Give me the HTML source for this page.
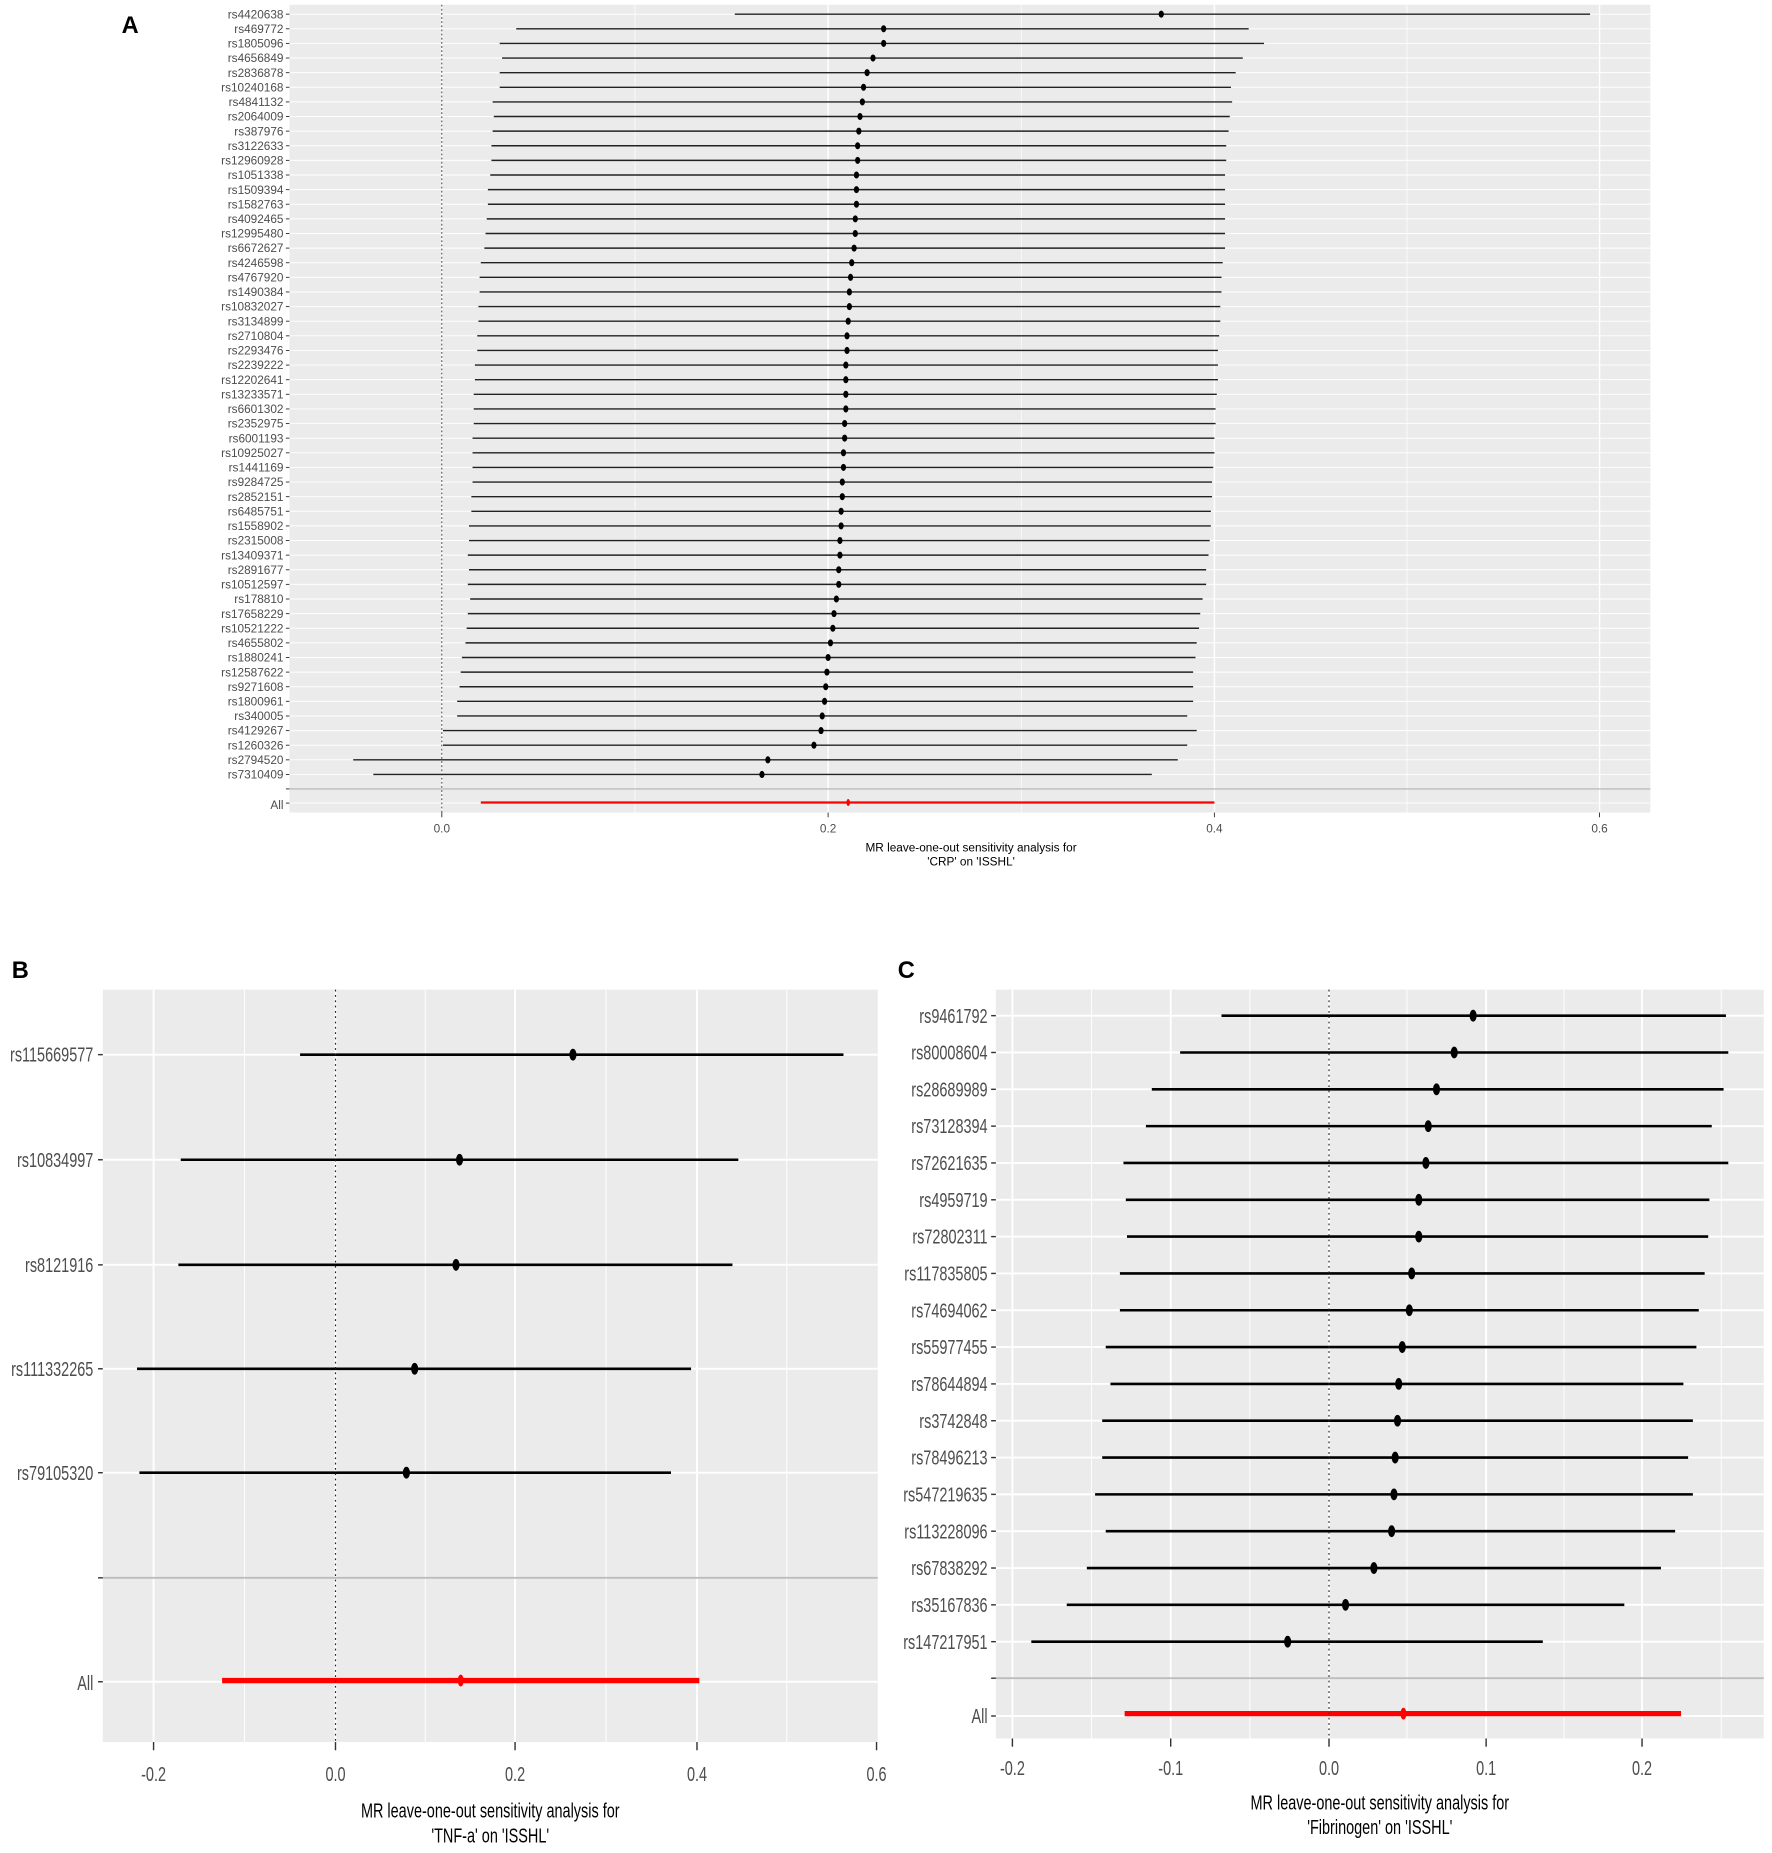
<!DOCTYPE html>
<html><head><meta charset="utf-8"><style>html,body{margin:0;padding:0;background:#fff}svg{display:block}
.a .w{stroke:#fff;stroke-width:0.8}.a .c{stroke:#222;stroke-width:1.2}.a .t{stroke:#333;stroke-width:0.8}.a text{font-size:10px;fill:#4d4d4d;text-anchor:end}.a ellipse{fill:#000}
.cc .w{stroke:#fff;stroke-width:1.6}.cc .c{stroke:#000;stroke-width:2.2}.cc .t{stroke:#333;stroke-width:1.2}.cc text{font-size:17px;fill:#4d4d4d;text-anchor:end}.cc ellipse{fill:#000}
</style></head>
<body>
<svg width="1772" height="1853" viewBox="0 0 1500 1569" preserveAspectRatio="none" xmlns="http://www.w3.org/2000/svg" font-family="Liberation Sans, sans-serif">
<text x="103" y="28" font-size="20" font-weight="bold">A</text>
<text x="10" y="828" font-size="20" font-weight="bold">B</text>
<text x="760" y="828" font-size="20" font-weight="bold">C</text>

<!-- Panel A -->
<rect x="245" y="4" width="1152" height="684" fill="#ebebeb"/>
<g stroke="#fff" stroke-width="0.6">
<line x1="537.5" y1="4" x2="537.5" y2="688"/><line x1="864.5" y1="4" x2="864.5" y2="688"/><line x1="1191" y1="4" x2="1191" y2="688"/>
</g>
<g stroke="#fff" stroke-width="1.2">
<line x1="374" y1="4" x2="374" y2="688"/><line x1="701" y1="4" x2="701" y2="688"/><line x1="1028" y1="4" x2="1028" y2="688"/><line x1="1354" y1="4" x2="1354" y2="688"/>
</g>
<g class="a">
<g transform="translate(0,12)"><path class="w" d="M245 0H1397"/><path class="c" d="M622 0H1346"/><ellipse cx="983" rx="2.2" ry="3"/><path class="t" d="M242 0H245"/><text x="240" y="3.5">rs4420638</text></g>
<g transform="translate(0,24.38)"><path class="w" d="M245 0H1397"/><path class="c" d="M437 0H1057"/><ellipse cx="748" rx="2.2" ry="3"/><path class="t" d="M242 0H245"/><text x="240" y="3.5">rs469772</text></g>
<g transform="translate(0,36.76)"><path class="w" d="M245 0H1397"/><path class="c" d="M423 0H1070"/><ellipse cx="748" rx="2.2" ry="3"/><path class="t" d="M242 0H245"/><text x="240" y="3.5">rs1805096</text></g>
<g transform="translate(0,49.14)"><path class="w" d="M245 0H1397"/><path class="c" d="M425 0H1052"/><ellipse cx="739" rx="2.2" ry="3"/><path class="t" d="M242 0H245"/><text x="240" y="3.5">rs4656849</text></g>
<g transform="translate(0,61.52)"><path class="w" d="M245 0H1397"/><path class="c" d="M423 0H1046"/><ellipse cx="734" rx="2.2" ry="3"/><path class="t" d="M242 0H245"/><text x="240" y="3.5">rs2836878</text></g>
<g transform="translate(0,73.9)"><path class="w" d="M245 0H1397"/><path class="c" d="M423 0H1042"/><ellipse cx="731" rx="2.2" ry="3"/><path class="t" d="M242 0H245"/><text x="240" y="3.5">rs10240168</text></g>
<g transform="translate(0,86.28)"><path class="w" d="M245 0H1397"/><path class="c" d="M417 0H1043"/><ellipse cx="730" rx="2.2" ry="3"/><path class="t" d="M242 0H245"/><text x="240" y="3.5">rs4841132</text></g>
<g transform="translate(0,98.66)"><path class="w" d="M245 0H1397"/><path class="c" d="M418 0H1041"/><ellipse cx="728" rx="2.2" ry="3"/><path class="t" d="M242 0H245"/><text x="240" y="3.5">rs2064009</text></g>
<g transform="translate(0,111.04)"><path class="w" d="M245 0H1397"/><path class="c" d="M417 0H1040"/><ellipse cx="727" rx="2.2" ry="3"/><path class="t" d="M242 0H245"/><text x="240" y="3.5">rs387976</text></g>
<g transform="translate(0,123.42)"><path class="w" d="M245 0H1397"/><path class="c" d="M416 0H1038"/><ellipse cx="726" rx="2.2" ry="3"/><path class="t" d="M242 0H245"/><text x="240" y="3.5">rs3122633</text></g>
<g transform="translate(0,135.8)"><path class="w" d="M245 0H1397"/><path class="c" d="M416 0H1038"/><ellipse cx="726" rx="2.2" ry="3"/><path class="t" d="M242 0H245"/><text x="240" y="3.5">rs12960928</text></g>
<g transform="translate(0,148.18)"><path class="w" d="M245 0H1397"/><path class="c" d="M415 0H1037"/><ellipse cx="725" rx="2.2" ry="3"/><path class="t" d="M242 0H245"/><text x="240" y="3.5">rs1051338</text></g>
<g transform="translate(0,160.56)"><path class="w" d="M245 0H1397"/><path class="c" d="M413 0H1037"/><ellipse cx="725" rx="2.2" ry="3"/><path class="t" d="M242 0H245"/><text x="240" y="3.5">rs1509394</text></g>
<g transform="translate(0,172.94)"><path class="w" d="M245 0H1397"/><path class="c" d="M413 0H1037"/><ellipse cx="725" rx="2.2" ry="3"/><path class="t" d="M242 0H245"/><text x="240" y="3.5">rs1582763</text></g>
<g transform="translate(0,185.32)"><path class="w" d="M245 0H1397"/><path class="c" d="M412 0H1037"/><ellipse cx="724" rx="2.2" ry="3"/><path class="t" d="M242 0H245"/><text x="240" y="3.5">rs4092465</text></g>
<g transform="translate(0,197.7)"><path class="w" d="M245 0H1397"/><path class="c" d="M411 0H1037"/><ellipse cx="724" rx="2.2" ry="3"/><path class="t" d="M242 0H245"/><text x="240" y="3.5">rs12995480</text></g>
<g transform="translate(0,210.08)"><path class="w" d="M245 0H1397"/><path class="c" d="M410 0H1037"/><ellipse cx="723" rx="2.2" ry="3"/><path class="t" d="M242 0H245"/><text x="240" y="3.5">rs6672627</text></g>
<g transform="translate(0,222.46)"><path class="w" d="M245 0H1397"/><path class="c" d="M407 0H1035"/><ellipse cx="721" rx="2.2" ry="3"/><path class="t" d="M242 0H245"/><text x="240" y="3.5">rs4246598</text></g>
<g transform="translate(0,234.84)"><path class="w" d="M245 0H1397"/><path class="c" d="M406 0H1034"/><ellipse cx="720" rx="2.2" ry="3"/><path class="t" d="M242 0H245"/><text x="240" y="3.5">rs4767920</text></g>
<g transform="translate(0,247.22)"><path class="w" d="M245 0H1397"/><path class="c" d="M406 0H1034"/><ellipse cx="719" rx="2.2" ry="3"/><path class="t" d="M242 0H245"/><text x="240" y="3.5">rs1490384</text></g>
<g transform="translate(0,259.6)"><path class="w" d="M245 0H1397"/><path class="c" d="M405 0H1033"/><ellipse cx="719" rx="2.2" ry="3"/><path class="t" d="M242 0H245"/><text x="240" y="3.5">rs10832027</text></g>
<g transform="translate(0,271.98)"><path class="w" d="M245 0H1397"/><path class="c" d="M405 0H1033"/><ellipse cx="718" rx="2.2" ry="3"/><path class="t" d="M242 0H245"/><text x="240" y="3.5">rs3134899</text></g>
<g transform="translate(0,284.36)"><path class="w" d="M245 0H1397"/><path class="c" d="M404 0H1032"/><ellipse cx="717" rx="2.2" ry="3"/><path class="t" d="M242 0H245"/><text x="240" y="3.5">rs2710804</text></g>
<g transform="translate(0,296.74)"><path class="w" d="M245 0H1397"/><path class="c" d="M404 0H1031"/><ellipse cx="717" rx="2.2" ry="3"/><path class="t" d="M242 0H245"/><text x="240" y="3.5">rs2293476</text></g>
<g transform="translate(0,309.12)"><path class="w" d="M245 0H1397"/><path class="c" d="M402 0H1031"/><ellipse cx="716" rx="2.2" ry="3"/><path class="t" d="M242 0H245"/><text x="240" y="3.5">rs2239222</text></g>
<g transform="translate(0,321.5)"><path class="w" d="M245 0H1397"/><path class="c" d="M402 0H1031"/><ellipse cx="716" rx="2.2" ry="3"/><path class="t" d="M242 0H245"/><text x="240" y="3.5">rs12202641</text></g>
<g transform="translate(0,333.88)"><path class="w" d="M245 0H1397"/><path class="c" d="M401 0H1030"/><ellipse cx="716" rx="2.2" ry="3"/><path class="t" d="M242 0H245"/><text x="240" y="3.5">rs13233571</text></g>
<g transform="translate(0,346.26)"><path class="w" d="M245 0H1397"/><path class="c" d="M401 0H1029"/><ellipse cx="716" rx="2.2" ry="3"/><path class="t" d="M242 0H245"/><text x="240" y="3.5">rs6601302</text></g>
<g transform="translate(0,358.64)"><path class="w" d="M245 0H1397"/><path class="c" d="M401 0H1029"/><ellipse cx="715" rx="2.2" ry="3"/><path class="t" d="M242 0H245"/><text x="240" y="3.5">rs2352975</text></g>
<g transform="translate(0,371.02)"><path class="w" d="M245 0H1397"/><path class="c" d="M400 0H1028"/><ellipse cx="715" rx="2.2" ry="3"/><path class="t" d="M242 0H245"/><text x="240" y="3.5">rs6001193</text></g>
<g transform="translate(0,383.4)"><path class="w" d="M245 0H1397"/><path class="c" d="M400 0H1028"/><ellipse cx="714" rx="2.2" ry="3"/><path class="t" d="M242 0H245"/><text x="240" y="3.5">rs10925027</text></g>
<g transform="translate(0,395.78)"><path class="w" d="M245 0H1397"/><path class="c" d="M400 0H1027"/><ellipse cx="714" rx="2.2" ry="3"/><path class="t" d="M242 0H245"/><text x="240" y="3.5">rs1441169</text></g>
<g transform="translate(0,408.16)"><path class="w" d="M245 0H1397"/><path class="c" d="M400 0H1026"/><ellipse cx="713" rx="2.2" ry="3"/><path class="t" d="M242 0H245"/><text x="240" y="3.5">rs9284725</text></g>
<g transform="translate(0,420.54)"><path class="w" d="M245 0H1397"/><path class="c" d="M399 0H1026"/><ellipse cx="713" rx="2.2" ry="3"/><path class="t" d="M242 0H245"/><text x="240" y="3.5">rs2852151</text></g>
<g transform="translate(0,432.92)"><path class="w" d="M245 0H1397"/><path class="c" d="M399 0H1025"/><ellipse cx="712" rx="2.2" ry="3"/><path class="t" d="M242 0H245"/><text x="240" y="3.5">rs6485751</text></g>
<g transform="translate(0,445.3)"><path class="w" d="M245 0H1397"/><path class="c" d="M397 0H1025"/><ellipse cx="712" rx="2.2" ry="3"/><path class="t" d="M242 0H245"/><text x="240" y="3.5">rs1558902</text></g>
<g transform="translate(0,457.68)"><path class="w" d="M245 0H1397"/><path class="c" d="M397 0H1024"/><ellipse cx="711" rx="2.2" ry="3"/><path class="t" d="M242 0H245"/><text x="240" y="3.5">rs2315008</text></g>
<g transform="translate(0,470.06)"><path class="w" d="M245 0H1397"/><path class="c" d="M396 0H1023"/><ellipse cx="711" rx="2.2" ry="3"/><path class="t" d="M242 0H245"/><text x="240" y="3.5">rs13409371</text></g>
<g transform="translate(0,482.44)"><path class="w" d="M245 0H1397"/><path class="c" d="M397 0H1021"/><ellipse cx="710" rx="2.2" ry="3"/><path class="t" d="M242 0H245"/><text x="240" y="3.5">rs2891677</text></g>
<g transform="translate(0,494.82)"><path class="w" d="M245 0H1397"/><path class="c" d="M396 0H1021"/><ellipse cx="710" rx="2.2" ry="3"/><path class="t" d="M242 0H245"/><text x="240" y="3.5">rs10512597</text></g>
<g transform="translate(0,507.2)"><path class="w" d="M245 0H1397"/><path class="c" d="M398 0H1018"/><ellipse cx="708" rx="2.2" ry="3"/><path class="t" d="M242 0H245"/><text x="240" y="3.5">rs178810</text></g>
<g transform="translate(0,519.58)"><path class="w" d="M245 0H1397"/><path class="c" d="M396 0H1016"/><ellipse cx="706" rx="2.2" ry="3"/><path class="t" d="M242 0H245"/><text x="240" y="3.5">rs17658229</text></g>
<g transform="translate(0,531.96)"><path class="w" d="M245 0H1397"/><path class="c" d="M395 0H1015"/><ellipse cx="705" rx="2.2" ry="3"/><path class="t" d="M242 0H245"/><text x="240" y="3.5">rs10521222</text></g>
<g transform="translate(0,544.34)"><path class="w" d="M245 0H1397"/><path class="c" d="M394 0H1013"/><ellipse cx="703" rx="2.2" ry="3"/><path class="t" d="M242 0H245"/><text x="240" y="3.5">rs4655802</text></g>
<g transform="translate(0,556.72)"><path class="w" d="M245 0H1397"/><path class="c" d="M391 0H1012"/><ellipse cx="701" rx="2.2" ry="3"/><path class="t" d="M242 0H245"/><text x="240" y="3.5">rs1880241</text></g>
<g transform="translate(0,569.1)"><path class="w" d="M245 0H1397"/><path class="c" d="M390 0H1010"/><ellipse cx="700" rx="2.2" ry="3"/><path class="t" d="M242 0H245"/><text x="240" y="3.5">rs12587622</text></g>
<g transform="translate(0,581.48)"><path class="w" d="M245 0H1397"/><path class="c" d="M389 0H1010"/><ellipse cx="699" rx="2.2" ry="3"/><path class="t" d="M242 0H245"/><text x="240" y="3.5">rs9271608</text></g>
<g transform="translate(0,593.86)"><path class="w" d="M245 0H1397"/><path class="c" d="M387 0H1010"/><ellipse cx="698" rx="2.2" ry="3"/><path class="t" d="M242 0H245"/><text x="240" y="3.5">rs1800961</text></g>
<g transform="translate(0,606.24)"><path class="w" d="M245 0H1397"/><path class="c" d="M387 0H1005"/><ellipse cx="696" rx="2.2" ry="3"/><path class="t" d="M242 0H245"/><text x="240" y="3.5">rs340005</text></g>
<g transform="translate(0,618.62)"><path class="w" d="M245 0H1397"/><path class="c" d="M375 0H1013"/><ellipse cx="695" rx="2.2" ry="3"/><path class="t" d="M242 0H245"/><text x="240" y="3.5">rs4129267</text></g>
<g transform="translate(0,631)"><path class="w" d="M245 0H1397"/><path class="c" d="M375 0H1005"/><ellipse cx="689" rx="2.2" ry="3"/><path class="t" d="M242 0H245"/><text x="240" y="3.5">rs1260326</text></g>
<g transform="translate(0,643.38)"><path class="w" d="M245 0H1397"/><path class="c" d="M299 0H997"/><ellipse cx="650" rx="2.2" ry="3"/><path class="t" d="M242 0H245"/><text x="240" y="3.5">rs2794520</text></g>
<g transform="translate(0,655.76)"><path class="w" d="M245 0H1397"/><path class="c" d="M316 0H975"/><ellipse cx="645" rx="2.2" ry="3"/><path class="t" d="M242 0H245"/><text x="240" y="3.5">rs7310409</text></g>
</g>
<line x1="245" y1="668" x2="1397" y2="668" stroke="#bdbdbd" stroke-width="1.2"/>
<line x1="245" y1="680" x2="1397" y2="680" stroke="#fff" stroke-width="0.8"/>
<line x1="407" y1="679.5" x2="1028" y2="679.5" stroke="#f00" stroke-width="2"/>
<ellipse cx="718" cy="679.5" rx="1.5" ry="3" fill="#f00"/>
<line x1="374" y1="4" x2="374" y2="688" stroke="#333" stroke-width="0.8" stroke-dasharray="1.5,2"/>
<g stroke="#333" stroke-width="0.8">
<line x1="374" y1="688" x2="374" y2="692"/><line x1="701" y1="688" x2="701" y2="692"/><line x1="1028" y1="688" x2="1028" y2="692"/><line x1="1354" y1="688" x2="1354" y2="692"/>
<line x1="242" y1="668" x2="245" y2="668"/><line x1="242" y1="680" x2="245" y2="680"/>
</g>
<g font-size="10" fill="#4d4d4d" text-anchor="middle">
<text x="374" y="705">0.0</text><text x="701" y="705">0.2</text><text x="1028" y="705">0.4</text><text x="1354" y="705">0.6</text>
</g>
<text x="240" y="685" font-size="10" fill="#4d4d4d" text-anchor="end">All</text>
<g font-size="10" fill="#000" text-anchor="middle">
<text x="822" y="721">MR leave-one-out sensitivity analysis for</text>
<text x="822" y="733">'CRP' on 'ISSHL'</text>
</g>

<!-- Panel B -->
<rect x="87" y="838" width="656" height="637" fill="#ebebeb"/>
<g stroke="#fff" stroke-width="0.8">
<line x1="207" y1="838" x2="207" y2="1475"/><line x1="360" y1="838" x2="360" y2="1475"/><line x1="513" y1="838" x2="513" y2="1475"/><line x1="666" y1="838" x2="666" y2="1475"/>
</g>
<g stroke="#fff" stroke-width="1.6">
<line x1="130" y1="838" x2="130" y2="1475"/><line x1="284" y1="838" x2="284" y2="1475"/><line x1="436" y1="838" x2="436" y2="1475"/><line x1="590" y1="838" x2="590" y2="1475"/>
<line x1="87" y1="893" x2="743" y2="893"/><line x1="87" y1="982" x2="743" y2="982"/><line x1="87" y1="1071" x2="743" y2="1071"/><line x1="87" y1="1159" x2="743" y2="1159"/><line x1="87" y1="1247" x2="743" y2="1247"/><line x1="87" y1="1424" x2="743" y2="1424"/>
</g>
<line x1="87" y1="1336" x2="743" y2="1336" stroke="#bdbdbd" stroke-width="1.6"/>
<g stroke="#000" stroke-width="2.2">
<line x1="254" y1="893" x2="714" y2="893"/><line x1="153" y1="982" x2="625" y2="982"/><line x1="151" y1="1071" x2="620" y2="1071"/><line x1="116" y1="1159" x2="585" y2="1159"/><line x1="118" y1="1247" x2="568" y2="1247"/>
</g>
<g fill="#000"><ellipse cx="485" cy="893" rx="3" ry="5"/><ellipse cx="389" cy="982" rx="3" ry="5"/><ellipse cx="386" cy="1071" rx="3" ry="5"/><ellipse cx="351" cy="1159" rx="3" ry="5"/><ellipse cx="344" cy="1247" rx="3" ry="5"/></g>
<line x1="188" y1="1423" x2="592" y2="1423" stroke="#f00" stroke-width="4.5"/>
<ellipse cx="390" cy="1423" rx="2.5" ry="5" fill="#f00"/>
<line x1="284" y1="838" x2="284" y2="1475" stroke="#222" stroke-width="1" stroke-dasharray="1.5,3"/>
<g stroke="#333" stroke-width="1.2">
<line x1="83" y1="893" x2="87" y2="893"/><line x1="83" y1="982" x2="87" y2="982"/><line x1="83" y1="1071" x2="87" y2="1071"/><line x1="83" y1="1159" x2="87" y2="1159"/><line x1="83" y1="1247" x2="87" y2="1247"/><line x1="83" y1="1336" x2="87" y2="1336"/><line x1="83" y1="1424" x2="87" y2="1424"/>
<line x1="130" y1="1475" x2="130" y2="1482"/><line x1="284" y1="1475" x2="284" y2="1482"/><line x1="436" y1="1475" x2="436" y2="1482"/><line x1="590" y1="1475" x2="590" y2="1482"/><line x1="742" y1="1475" x2="742" y2="1482"/>
</g>
<g font-size="17" fill="#4d4d4d" text-anchor="end">
<text transform="translate(79,899) scale(0.72,1)">rs115669577</text>
<text transform="translate(79,988) scale(0.72,1)">rs10834997</text>
<text transform="translate(79,1077) scale(0.72,1)">rs8121916</text>
<text transform="translate(79,1165) scale(0.72,1)">rs111332265</text>
<text transform="translate(79,1253) scale(0.72,1)">rs79105320</text>
<text transform="translate(79,1431) scale(0.72,1)">All</text>
</g>
<g font-size="17" fill="#4d4d4d" text-anchor="middle">
<text transform="translate(130,1508) scale(0.72,1)">-0.2</text>
<text transform="translate(284,1508) scale(0.72,1)">0.0</text>
<text transform="translate(436,1508) scale(0.72,1)">0.2</text>
<text transform="translate(590,1508) scale(0.72,1)">0.4</text>
<text transform="translate(742,1508) scale(0.72,1)">0.6</text>
</g>
<g font-size="17" fill="#000" text-anchor="middle">
<text transform="translate(415,1539) scale(0.72,1)">MR leave-one-out sensitivity analysis for</text>
<text transform="translate(415,1560) scale(0.72,1)">'TNF-a' on 'ISSHL'</text>
</g>

<!-- Panel C -->
<rect x="843" y="838" width="650" height="634" fill="#ebebeb"/>
<g stroke="#fff" stroke-width="0.8">
<line x1="924" y1="838" x2="924" y2="1472"/><line x1="1058" y1="838" x2="1058" y2="1472"/><line x1="1191" y1="838" x2="1191" y2="1472"/><line x1="1324" y1="838" x2="1324" y2="1472"/><line x1="1457" y1="838" x2="1457" y2="1472"/>
</g>
<g stroke="#fff" stroke-width="1.6">
<line x1="857" y1="838" x2="857" y2="1472"/><line x1="991" y1="838" x2="991" y2="1472"/><line x1="1125" y1="838" x2="1125" y2="1472"/><line x1="1258" y1="838" x2="1258" y2="1472"/><line x1="1390" y1="838" x2="1390" y2="1472"/>
</g>
<g class="cc">
<g transform="translate(0,860)"><path class="w" d="M843 0H1493"/><path class="c" d="M1034 0H1461"/><ellipse cx="1247" rx="3" ry="5"/><path class="t" d="M839 0H843"/><text transform="translate(836,6) scale(0.72,1)">rs9461792</text></g>
<g transform="translate(0,891.18)"><path class="w" d="M843 0H1493"/><path class="c" d="M999 0H1463"/><ellipse cx="1231" rx="3" ry="5"/><path class="t" d="M839 0H843"/><text transform="translate(836,6) scale(0.72,1)">rs80008604</text></g>
<g transform="translate(0,922.36)"><path class="w" d="M843 0H1493"/><path class="c" d="M975 0H1459"/><ellipse cx="1216" rx="3" ry="5"/><path class="t" d="M839 0H843"/><text transform="translate(836,6) scale(0.72,1)">rs28689989</text></g>
<g transform="translate(0,953.54)"><path class="w" d="M843 0H1493"/><path class="c" d="M970 0H1449"/><ellipse cx="1209" rx="3" ry="5"/><path class="t" d="M839 0H843"/><text transform="translate(836,6) scale(0.72,1)">rs73128394</text></g>
<g transform="translate(0,984.72)"><path class="w" d="M843 0H1493"/><path class="c" d="M951 0H1463"/><ellipse cx="1207" rx="3" ry="5"/><path class="t" d="M839 0H843"/><text transform="translate(836,6) scale(0.72,1)">rs72621635</text></g>
<g transform="translate(0,1015.9)"><path class="w" d="M843 0H1493"/><path class="c" d="M953 0H1447"/><ellipse cx="1201" rx="3" ry="5"/><path class="t" d="M839 0H843"/><text transform="translate(836,6) scale(0.72,1)">rs4959719</text></g>
<g transform="translate(0,1047.08)"><path class="w" d="M843 0H1493"/><path class="c" d="M954 0H1446"/><ellipse cx="1201" rx="3" ry="5"/><path class="t" d="M839 0H843"/><text transform="translate(836,6) scale(0.72,1)">rs72802311</text></g>
<g transform="translate(0,1078.26)"><path class="w" d="M843 0H1493"/><path class="c" d="M948 0H1443"/><ellipse cx="1195" rx="3" ry="5"/><path class="t" d="M839 0H843"/><text transform="translate(836,6) scale(0.72,1)">rs117835805</text></g>
<g transform="translate(0,1109.44)"><path class="w" d="M843 0H1493"/><path class="c" d="M948 0H1438"/><ellipse cx="1193" rx="3" ry="5"/><path class="t" d="M839 0H843"/><text transform="translate(836,6) scale(0.72,1)">rs74694062</text></g>
<g transform="translate(0,1140.62)"><path class="w" d="M843 0H1493"/><path class="c" d="M936 0H1436"/><ellipse cx="1187" rx="3" ry="5"/><path class="t" d="M839 0H843"/><text transform="translate(836,6) scale(0.72,1)">rs55977455</text></g>
<g transform="translate(0,1171.8)"><path class="w" d="M843 0H1493"/><path class="c" d="M940 0H1425"/><ellipse cx="1184" rx="3" ry="5"/><path class="t" d="M839 0H843"/><text transform="translate(836,6) scale(0.72,1)">rs78644894</text></g>
<g transform="translate(0,1202.98)"><path class="w" d="M843 0H1493"/><path class="c" d="M933 0H1433"/><ellipse cx="1183" rx="3" ry="5"/><path class="t" d="M839 0H843"/><text transform="translate(836,6) scale(0.72,1)">rs3742848</text></g>
<g transform="translate(0,1234.16)"><path class="w" d="M843 0H1493"/><path class="c" d="M933 0H1429"/><ellipse cx="1181" rx="3" ry="5"/><path class="t" d="M839 0H843"/><text transform="translate(836,6) scale(0.72,1)">rs78496213</text></g>
<g transform="translate(0,1265.34)"><path class="w" d="M843 0H1493"/><path class="c" d="M927 0H1433"/><ellipse cx="1180" rx="3" ry="5"/><path class="t" d="M839 0H843"/><text transform="translate(836,6) scale(0.72,1)">rs547219635</text></g>
<g transform="translate(0,1296.52)"><path class="w" d="M843 0H1493"/><path class="c" d="M936 0H1418"/><ellipse cx="1178" rx="3" ry="5"/><path class="t" d="M839 0H843"/><text transform="translate(836,6) scale(0.72,1)">rs113228096</text></g>
<g transform="translate(0,1327.7)"><path class="w" d="M843 0H1493"/><path class="c" d="M920 0H1406"/><ellipse cx="1163" rx="3" ry="5"/><path class="t" d="M839 0H843"/><text transform="translate(836,6) scale(0.72,1)">rs67838292</text></g>
<g transform="translate(0,1358.88)"><path class="w" d="M843 0H1493"/><path class="c" d="M903 0H1375"/><ellipse cx="1139" rx="3" ry="5"/><path class="t" d="M839 0H843"/><text transform="translate(836,6) scale(0.72,1)">rs35167836</text></g>
<g transform="translate(0,1390.06)"><path class="w" d="M843 0H1493"/><path class="c" d="M873 0H1306"/><ellipse cx="1090" rx="3" ry="5"/><path class="t" d="M839 0H843"/><text transform="translate(836,6) scale(0.72,1)">rs147217951</text></g>
</g>
<line x1="843" y1="1421" x2="1493" y2="1421" stroke="#bdbdbd" stroke-width="1.6"/>
<line x1="843" y1="1453" x2="1493" y2="1453" stroke="#fff" stroke-width="1.6"/>
<line x1="952" y1="1451" x2="1423" y2="1451" stroke="#f00" stroke-width="4.5"/>
<ellipse cx="1188" cy="1451" rx="2.5" ry="5" fill="#f00"/>
<line x1="1125" y1="838" x2="1125" y2="1472" stroke="#222" stroke-width="1" stroke-dasharray="1.5,3"/>
<g stroke="#333" stroke-width="1.2">
<line x1="857" y1="1472" x2="857" y2="1479"/><line x1="991" y1="1472" x2="991" y2="1479"/><line x1="1125" y1="1472" x2="1125" y2="1479"/><line x1="1258" y1="1472" x2="1258" y2="1479"/><line x1="1390" y1="1472" x2="1390" y2="1479"/>
<line x1="839" y1="1421" x2="843" y2="1421"/><line x1="839" y1="1453" x2="843" y2="1453"/>
</g>
<g font-size="17" fill="#4d4d4d" text-anchor="middle">
<text transform="translate(857,1503) scale(0.72,1)">-0.2</text>
<text transform="translate(991,1503) scale(0.72,1)">-0.1</text>
<text transform="translate(1125,1503) scale(0.72,1)">0.0</text>
<text transform="translate(1258,1503) scale(0.72,1)">0.1</text>
<text transform="translate(1390,1503) scale(0.72,1)">0.2</text>
</g>
<text transform="translate(836,1459) scale(0.72,1)" font-size="17" fill="#4d4d4d" text-anchor="end">All</text>
<g font-size="17" fill="#000" text-anchor="middle">
<text transform="translate(1168,1532) scale(0.72,1)">MR leave-one-out sensitivity analysis for</text>
<text transform="translate(1168,1553) scale(0.72,1)">'Fibrinogen' on 'ISSHL'</text>
</g>
</svg>
</body></html>
